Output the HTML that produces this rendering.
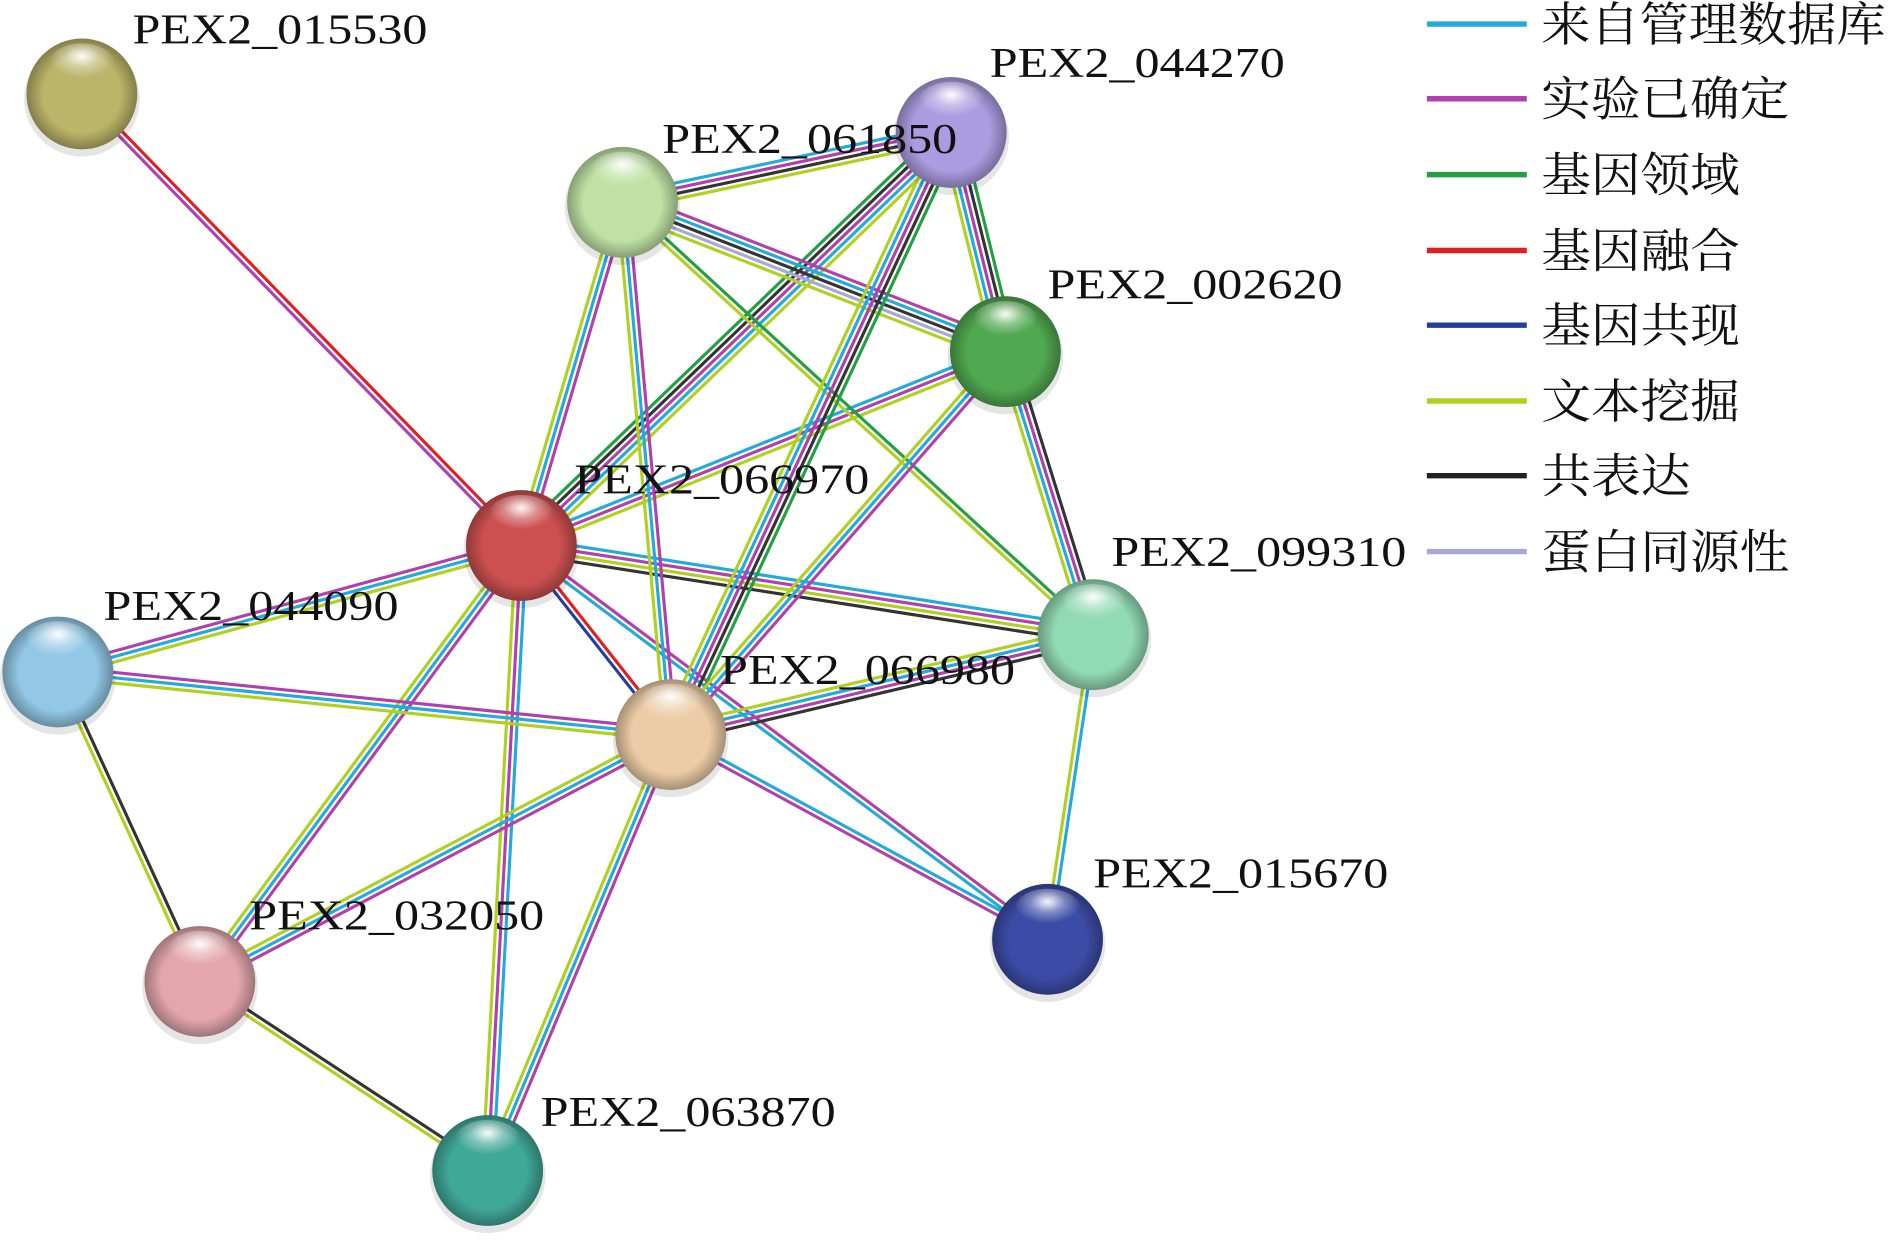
<!DOCTYPE html>
<html><head><meta charset="utf-8"><style>
html,body{margin:0;padding:0;background:#fff;width:1888px;height:1244px;overflow:hidden}
svg{display:block}
.lb{font-family:"Liberation Serif",serif;font-size:35px;fill:#111}
.lg{font-family:"Liberation Serif","Noto Serif CJK SC",serif;font-size:39px;fill:#111}
</style></head><body>
<svg id="s" width="1888" height="1244" viewBox="0 0 1568 1033" preserveAspectRatio="none" xmlns="http://www.w3.org/2000/svg">
<defs>
<radialGradient id="hl" cx="0.5" cy="0.3" r="0.5">
<stop offset="0" stop-color="#fff" stop-opacity="0.95"/>
<stop offset="0.5" stop-color="#fff" stop-opacity="0.35"/>
<stop offset="1" stop-color="#fff" stop-opacity="0"/>
</radialGradient>
<radialGradient id="sh" cx="0.5" cy="0.5" r="0.5">
<stop offset="0.7" stop-color="#000" stop-opacity="0"/>
<stop offset="1" stop-color="#000" stop-opacity="0.3"/>
</radialGradient>
</defs>
<g id="edges"></g>
<g id="nodes"></g>
<g id="labels">
<text class="lb" x="110" y="36" textLength="245" lengthAdjust="spacingAndGlyphs">PEX2_015530</text>
<text class="lb" x="822" y="64" textLength="245" lengthAdjust="spacingAndGlyphs">PEX2_044270</text>
<text class="lb" x="550" y="127" textLength="245" lengthAdjust="spacingAndGlyphs">PEX2_061850</text>
<text class="lb" x="870" y="248" textLength="245" lengthAdjust="spacingAndGlyphs">PEX2_002620</text>
<text class="lb" x="477" y="410" textLength="245" lengthAdjust="spacingAndGlyphs">PEX2_066970</text>
<text class="lb" x="923" y="470" textLength="245" lengthAdjust="spacingAndGlyphs">PEX2_099310</text>
<text class="lb" x="86" y="515" textLength="245" lengthAdjust="spacingAndGlyphs">PEX2_044090</text>
<text class="lb" x="598" y="568" textLength="245" lengthAdjust="spacingAndGlyphs">PEX2_066980</text>
<text class="lb" x="908" y="737" textLength="245" lengthAdjust="spacingAndGlyphs">PEX2_015670</text>
<text class="lb" x="207" y="772" textLength="245" lengthAdjust="spacingAndGlyphs">PEX2_032050</text>
<text class="lb" x="449" y="935" textLength="245" lengthAdjust="spacingAndGlyphs">PEX2_063870</text>
</g>
<g id="legend">
<line x1="1185" y1="20" x2="1268" y2="20" stroke="#22aadd" stroke-width="4.5"/><text class="lg" x="1280" y="34" textLength="286" lengthAdjust="spacingAndGlyphs">来自管理数据库</text>
<line x1="1185" y1="82" x2="1268" y2="82" stroke="#b040b0" stroke-width="4.5"/><text class="lg" x="1280" y="96" textLength="206" lengthAdjust="spacingAndGlyphs">实验已确定</text>
<line x1="1185" y1="145" x2="1268" y2="145" stroke="#20a040" stroke-width="4.5"/><text class="lg" x="1280" y="159" textLength="165" lengthAdjust="spacingAndGlyphs">基因领域</text>
<line x1="1185" y1="208" x2="1268" y2="208" stroke="#e02020" stroke-width="4.5"/><text class="lg" x="1280" y="222" textLength="165" lengthAdjust="spacingAndGlyphs">基因融合</text>
<line x1="1185" y1="270" x2="1268" y2="270" stroke="#2040a0" stroke-width="4.5"/><text class="lg" x="1280" y="284" textLength="165" lengthAdjust="spacingAndGlyphs">基因共现</text>
<line x1="1185" y1="333" x2="1268" y2="333" stroke="#b0d020" stroke-width="4.5"/><text class="lg" x="1280" y="347" textLength="165" lengthAdjust="spacingAndGlyphs">文本挖掘</text>
<line x1="1185" y1="395" x2="1268" y2="395" stroke="#222" stroke-width="4.5"/><text class="lg" x="1280" y="409" textLength="124" lengthAdjust="spacingAndGlyphs">共表达</text>
<line x1="1185" y1="458" x2="1268" y2="458" stroke="#a8a8d8" stroke-width="4.5"/><text class="lg" x="1280" y="472" textLength="206" lengthAdjust="spacingAndGlyphs">蛋白同源性</text>
</g>
</svg>
<script>
var N={a:[68,78,'#bcb468'],b:[790,110,'#aa9ce0'],c:[517,168,'#bfe2a4'],d:[835,292,'#50a850'],e:[433,453,'#cc5050'],f:[908,527,'#92dab4'],g:[48,558,'#92c8e6'],h:[557,610,'#ecccA6'],i:[870,780,'#3c4ca6'],j:[166,815,'#e2a6ac'],k:[405,972,'#40a898']};
var C={c:'#22aadd',p:'#b040b0',g:'#20a040',r:'#e02020',b:'#2040a0',y:'#b0d020',k:'#333',l:'#a8a8d8'};
var E=[['a','e','rp'],['e','c','ycp'],['e','b','gkpcy'],['e','d','cpy'],['e','f','cpyk'],['e','g','ycp'],['e','h','rb'],['e','i','pc'],['e','j','pcy'],['e','k','cpy'],['c','b','cpky'],['c','d','pckly'],['c','h','pcy'],['c','f','gy'],['b','d','gkpcy'],['b','h','gkpcy'],['d','h','pcy'],['d','f','kpcy'],['f','h','kpcy'],['f','i','cy'],['g','h','pcy'],['g','j','ky'],['h','j','pcy'],['h','k','pcy'],['h','i','cp'],['j','k','ky']];
var ns='http://www.w3.org/2000/svg',eg=document.getElementById('edges'),ng=document.getElementById('nodes');
E.forEach(function(e){var A=N[e[0]],B=N[e[1]],dx=B[0]-A[0],dy=B[1]-A[1],L=Math.hypot(dx,dy),px=-dy/L,py=dx/L,n=e[2].length;
for(var i=0;i<n;i++){var o=(i-(n-1)/2)*4.4,l=document.createElementNS(ns,'line');
l.setAttribute('x1',A[0]+px*o);l.setAttribute('y1',A[1]+py*o);l.setAttribute('x2',B[0]+px*o);l.setAttribute('y2',B[1]+py*o);
l.setAttribute('stroke',C[e[2][i]]);l.setAttribute('stroke-width',2.6);eg.appendChild(l);}});
for(var k in N){var p=N[k];
var c=document.createElementNS(ns,'circle');c.setAttribute('cx',p[0]);c.setAttribute('cy',p[1]+4);c.setAttribute('r',48);c.setAttribute('fill','#000');c.setAttribute('opacity','0.1');ng.appendChild(c);
c=document.createElementNS(ns,'circle');c.setAttribute('cx',p[0]);c.setAttribute('cy',p[1]);c.setAttribute('r',46);c.setAttribute('fill',p[2]);ng.appendChild(c);
c=document.createElementNS(ns,'circle');c.setAttribute('cx',p[0]);c.setAttribute('cy',p[1]);c.setAttribute('r',46);c.setAttribute('fill','url(#sh)');ng.appendChild(c);
c=document.createElementNS(ns,'ellipse');c.setAttribute('cx',p[0]);c.setAttribute('cy',p[1]-24);c.setAttribute('rx',28);c.setAttribute('ry',18);c.setAttribute('fill','url(#hl)');ng.appendChild(c);}
</script>
</body></html>
